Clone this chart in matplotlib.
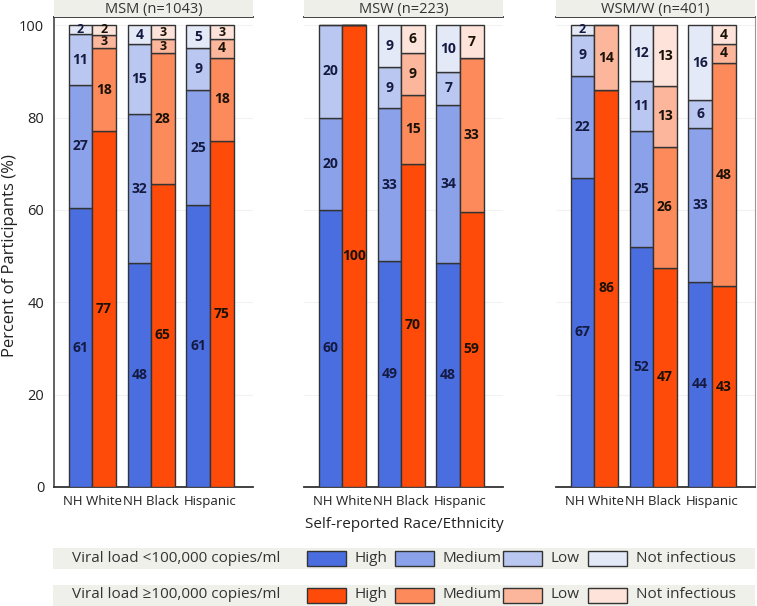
import numpy as np
import matplotlib
matplotlib.use('Agg')
import matplotlib.pyplot as plt
from matplotlib.patches import Rectangle

plt.rcParams['font.family'] = ['Open Sans', 'DejaVu Sans']

groups = ['NH White', 'NH Black', 'Hispanic']
panels = ['MSM (n=1043)', 'MSW (n=223)', 'WSM/W (n=401)']
levels = ['High', 'Medium', 'Low', 'Not infectious']

# rows = race group, cols = High, Medium, Low, Not infectious
msm_lo = [[61, 27, 11, 2], [48, 32, 15, 4], [61, 25, 9, 5]]
msm_hi = [[77, 18, 3, 2], [65, 28, 3, 3], [75, 18, 4, 3]]
msw_lo = [[60, 20, 20, 0], [49, 33, 9, 9], [48, 34, 7, 10]]
msw_hi = [[100, 0, 0, 0], [70, 15, 9, 6], [59, 33, 0, 7]]
wsm_lo = [[67, 22, 9, 2], [52, 25, 11, 12], [44, 33, 6, 16]]
wsm_hi = [[86, 0, 14, 0], [47, 26, 13, 13], [43, 48, 4, 4]]

data_lo = [msm_lo, msw_lo, wsm_lo]
data_hi = [msm_hi, msw_hi, wsm_hi]

blues = ['#4a6ee0', '#8ba2ea', '#bac8f1', '#e4e9f8']
oranges = ['#ff4b0a', '#fd8a5a', '#fcb69c', '#fde3d9']
edge = '#333333'
W, H = 757, 606

fig = plt.figure(figsize=(W / 100, H / 100), dpi=100)

lefts = [54, 304, 556]
pw = 199
bot = 487
top = 17
x = np.arange(len(groups))
bw = 0.4

for p in range(3):
    ax = fig.add_axes([lefts[p] / W, (H - bot) / H, pw / W, (bot - top) / H])
    for xi, cols, data, tc in [(x - bw / 2, blues, data_lo[p], '#151a40'),
                               (x + bw / 2, oranges, data_hi[p], '#1a1208')]:
        vals = np.array(data, dtype=float)
        heights = vals / vals.sum(axis=1, keepdims=True) * 100
        bottom = np.zeros(len(groups))
        for k in range(len(levels)):
            ax.bar(xi, heights[:, k], bw, bottom=bottom, color=cols[k],
                   edgecolor=edge, linewidth=1.0, zorder=3)
            for g in range(len(groups)):
                if vals[g, k] > 0:
                    fs = 10 if vals[g, k] > 3 else 9
                    ax.text(xi[g], bottom[g] + heights[g, k] / 2, '%d' % vals[g, k],
                            ha='center', va='center', fontsize=fs, fontweight='bold',
                            color=tc, zorder=4)
            bottom += heights[:, k]
    ax.set_xlim(-0.65, 2.73)
    ax.set_ylim(0, 101.8)
    ax.set_yticks([0, 20, 40, 60, 80, 100])
    ax.grid(axis='y', color='#f2f2f2', linewidth=0.8, zorder=0)
    ax.set_xticks(x)
    ax.set_xticklabels(groups, fontsize=9.5, color='#222222')
    ax.tick_params(length=0, pad=6)
    for s in ['left', 'right']:
        ax.spines[s].set_visible(False)
    for s in ['bottom', 'top']:
        ax.spines[s].set_color(edge)
        ax.spines[s].set_linewidth(1.3)
    if p == 0:
        ax.spines['left'].set_visible(True)
        ax.spines['left'].set_color('#555555')
        ax.spines['left'].set_linewidth(1.3)
        ax.tick_params(axis='y', labelsize=10.5, labelcolor='#222222', pad=7)
    else:
        ax.set_yticklabels([])
    if p == 2:
        ax.spines['right'].set_visible(True)
        ax.spines['right'].set_color('#999999')

    # facet strip
    sax = fig.add_axes([lefts[p] / W, (H - top) / H, pw / W, top / H])
    sax.set_facecolor('#efefe9')
    sax.set_xticks([])
    sax.set_yticks([])
    for s in sax.spines.values():
        s.set_visible(False)
    sax.text(0.5, 0.45, panels[p], ha='center', va='center', fontsize=10.5,
             color='#333333', transform=sax.transAxes)

fig.text(10 / W, 1 - 256 / H, 'Percent of Participants (%)', rotation=90,
         ha='center', va='center', fontsize=12, color='#222222')
fig.text(404 / W, 1 - 524 / H, 'Self-reported Race/Ethnicity', ha='center',
         va='center', fontsize=11, color='#222222')

# legend rows
lax = fig.add_axes([0, 0, 1, 70 / H])
lax.set_xlim(0, W)
lax.set_ylim(H, H - 70)
lax.axis('off')
rows = [('Viral load <100,000 copies/ml', blues, 558.5),
        ('Viral load \u2265100,000 copies/ml', oranges, 595)]
item_x = [307, 395, 503, 588]
for label, cols, yc in rows:
    lax.add_patch(Rectangle((53, yc - 10.5), 702, 21, color='#f0f0ea', lw=0))
    lax.text(280, yc, label, ha='right', va='center', fontsize=11, color='#333333')
    for k in range(len(levels)):
        lax.add_patch(Rectangle((item_x[k], yc - 7.5), 39, 15, facecolor=cols[k],
                                edgecolor=edge, lw=1.0))
        lax.text(item_x[k] + 48, yc, levels[k], ha='left', va='center',
                 fontsize=11, color='#333333')

plt.savefig('out.png', dpi=100)
